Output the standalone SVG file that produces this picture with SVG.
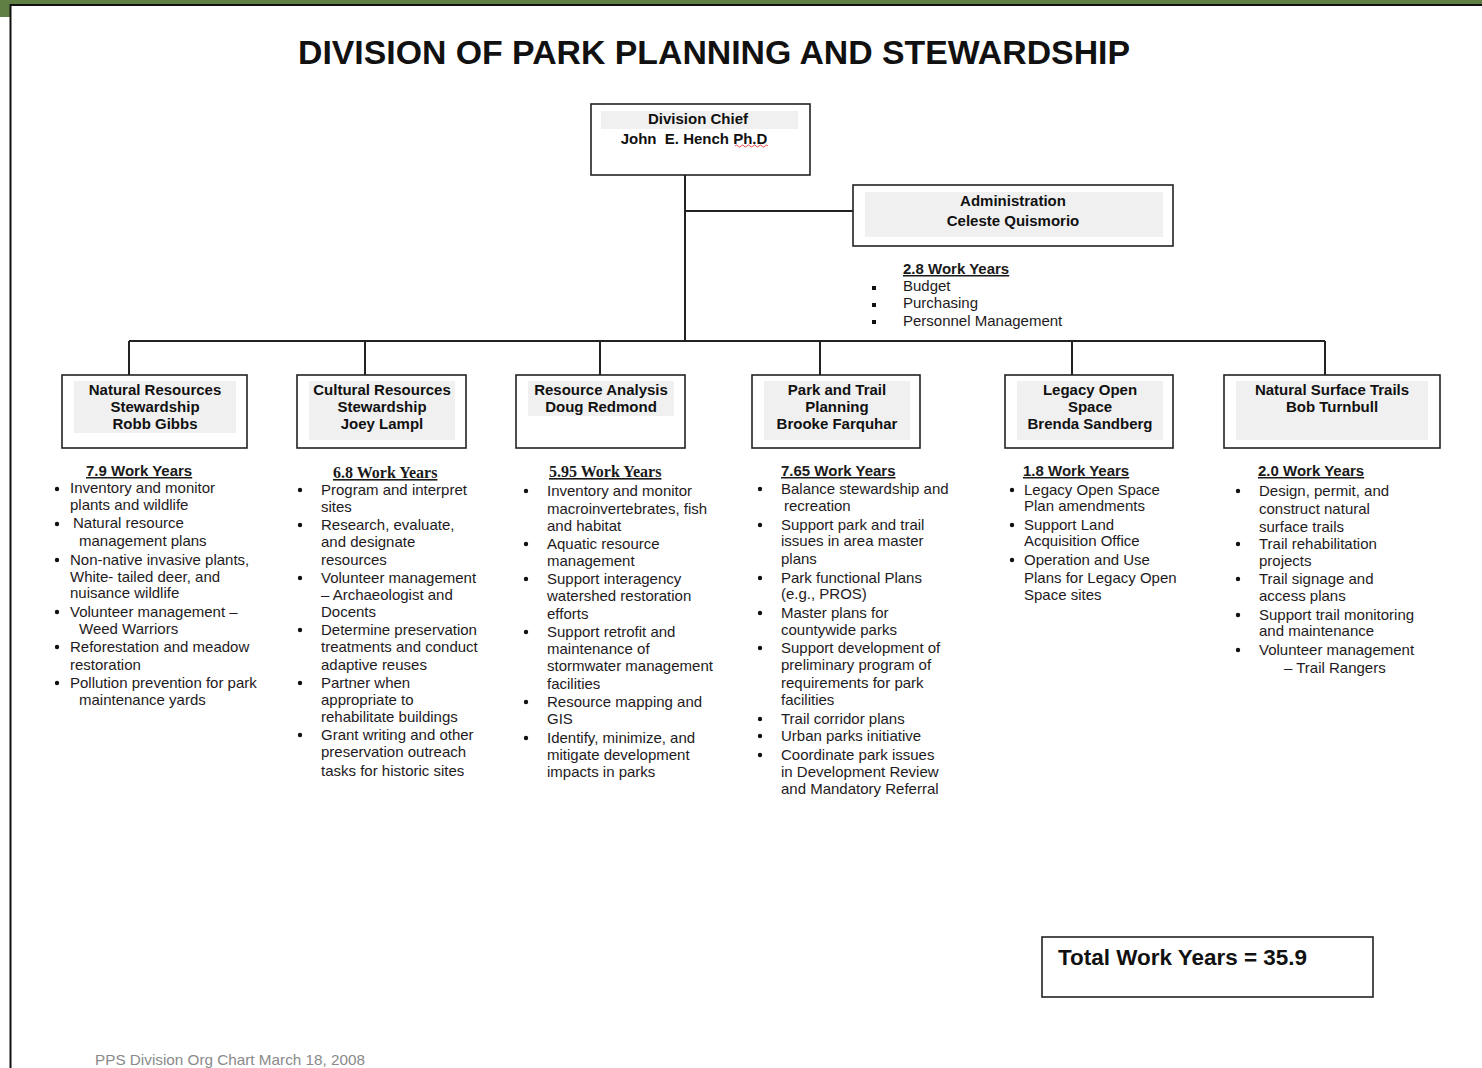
<svg xmlns="http://www.w3.org/2000/svg" width="1482" height="1068" viewBox="0 0 1482 1068">
<style>
.box{fill:#fff;stroke:#222;stroke-width:1.6}
.band{fill:#f0f0f0}
.bt{font-family:"Liberation Sans",Arial,sans-serif;font-size:15px;font-weight:bold;fill:#111;text-anchor:middle}
.t{font-family:"Liberation Sans",Arial,sans-serif;font-size:15px;fill:#1e1a22}
.h{font-family:"Liberation Sans",Arial,sans-serif;font-size:15px;font-weight:bold;fill:#1a1a1a;text-decoration:underline}
.hs{font-family:"Liberation Serif","Times New Roman",serif;font-size:16px;font-weight:bold;fill:#1a1a1a;text-decoration:underline}
.con{stroke:#222;stroke-width:2;fill:none}
.dot{fill:#111}
</style>
<rect x="0" y="0" width="1482" height="1068" fill="#fff"/>
<rect x="0" y="0" width="1482" height="4" fill="#5f7f45"/>
<rect x="0" y="0" width="10" height="17" fill="#5f7f45"/>
<line x1="10" y1="5" x2="1482" y2="5" stroke="#111" stroke-width="2"/>
<line x1="10.5" y1="4" x2="10.5" y2="1068" stroke="#111" stroke-width="2"/>

<text x="714" y="64" text-anchor="middle" textLength="832" lengthAdjust="spacingAndGlyphs" font-family="'Liberation Sans',Arial,sans-serif" font-size="34" font-weight="bold" fill="#111">DIVISION OF PARK PLANNING AND STEWARDSHIP</text>

<g id="connectors">
<path class="con" d="M685 175V341M685 211H853M129 341H1325M129 341V375M365 341V375M600 341V375M820 341V375M1072 341V375M1325 341V375"/>
</g>

<g id="chief">
<rect class="box" x="591" y="104" width="219" height="71"/>
<rect class="band" x="601" y="111" width="197" height="18"/>
<text class="bt" x="698" y="124">Division Chief</text>
<text class="bt" x="694" y="144" style="white-space:pre">John  E. Hench Ph.D</text>
<path d="M735 146q1.5 -2 3 0t3 0t3 0t3 0t3 0t3 0t3 0t3 0t3 0t3 0t3 0" stroke="#e02020" stroke-width="0.8" fill="none"/>
</g>

<g id="admin">
<rect class="box" x="853" y="185" width="320" height="61"/>
<rect class="band" x="865" y="192" width="298" height="45"/>
<text class="bt" x="1013" y="206">Administration</text>
<text class="bt" x="1013" y="226">Celeste Quismorio</text>
<text class="h" x="903" y="274">2.8 Work Years</text>
<rect class="dot" x="872" y="286" width="4" height="4"/>
<text class="t" x="903" y="291">Budget</text>
<rect class="dot" x="872" y="303" width="4" height="4"/>
<text class="t" x="903" y="308">Purchasing</text>
<rect class="dot" x="872" y="320" width="4" height="4"/>
<text class="t" x="903" y="326">Personnel Management</text>
</g>

<g id="nrs">
<rect class="box" x="62" y="375" width="185" height="73"/>
<rect class="band" x="74" y="381" width="162" height="52"/>
<text class="bt" x="155" y="395">Natural Resources</text>
<text class="bt" x="155" y="412">Stewardship</text>
<text class="bt" x="155" y="429">Robb Gibbs</text>
<text class="h" x="86" y="476">7.9 Work Years</text>
<g class="dot"><circle cx="57" cy="489" r="2.2"/><circle cx="57" cy="524" r="2.2"/><circle cx="57" cy="560" r="2.2"/><circle cx="57" cy="612" r="2.2"/><circle cx="57" cy="647" r="2.2"/><circle cx="57" cy="683" r="2.2"/></g>
<text class="t" x="70" y="493">Inventory and monitor</text>
<text class="t" x="70" y="510">plants and wildlife</text>
<text class="t" x="73" y="528">Natural resource</text>
<text class="t" x="79" y="546">management plans</text>
<text class="t" x="70" y="565">Non-native invasive plants,</text>
<text class="t" x="70" y="582">White- tailed deer, and</text>
<text class="t" x="70" y="598">nuisance wildlife</text>
<text class="t" x="70" y="617">Volunteer management –</text>
<text class="t" x="79" y="634">Weed Warriors</text>
<text class="t" x="70" y="652">Reforestation and meadow</text>
<text class="t" x="70" y="670">restoration</text>
<text class="t" x="70" y="688">Pollution prevention for park</text>
<text class="t" x="79" y="705">maintenance yards</text>
</g>

<g id="crs">
<rect class="box" x="297" y="375" width="169" height="73"/>
<rect class="band" x="309" y="381" width="146" height="59"/>
<text class="bt" x="382" y="395">Cultural Resources</text>
<text class="bt" x="382" y="412">Stewardship</text>
<text class="bt" x="382" y="429">Joey Lampl</text>
<text class="hs" x="333" y="478">6.8 Work Years</text>
<g class="dot"><circle cx="300" cy="490" r="2.2"/><circle cx="300" cy="525" r="2.2"/><circle cx="300" cy="578" r="2.2"/><circle cx="300" cy="630" r="2.2"/><circle cx="300" cy="683" r="2.2"/><circle cx="300" cy="735" r="2.2"/></g>
<text class="t" x="321" y="495">Program and interpret</text>
<text class="t" x="321" y="512">sites</text>
<text class="t" x="321" y="530">Research, evaluate,</text>
<text class="t" x="321" y="547">and designate</text>
<text class="t" x="321" y="565">resources</text>
<text class="t" x="321" y="583">Volunteer management</text>
<text class="t" x="321" y="600">– Archaeologist and</text>
<text class="t" x="321" y="617">Docents</text>
<text class="t" x="321" y="635">Determine preservation</text>
<text class="t" x="321" y="652">treatments and conduct</text>
<text class="t" x="321" y="670">adaptive reuses</text>
<text class="t" x="321" y="688">Partner when</text>
<text class="t" x="321" y="705">appropriate to</text>
<text class="t" x="321" y="722">rehabilitate buildings</text>
<text class="t" x="321" y="740">Grant writing and other</text>
<text class="t" x="321" y="757">preservation outreach</text>
<text class="t" x="321" y="776">tasks for historic sites</text>
</g>

<g id="ra">
<rect class="box" x="516" y="375" width="169" height="73"/>
<rect class="band" x="528" y="381" width="146" height="35"/>
<text class="bt" x="601" y="395">Resource Analysis</text>
<text class="bt" x="601" y="412">Doug Redmond</text>
<text class="hs" x="549" y="477">5.95 Work Years</text>
<g class="dot"><circle cx="526" cy="491" r="2.2"/><circle cx="526" cy="544" r="2.2"/><circle cx="526" cy="579" r="2.2"/><circle cx="526" cy="632" r="2.2"/><circle cx="526" cy="702" r="2.2"/><circle cx="526" cy="738" r="2.2"/></g>
<text class="t" x="547" y="496">Inventory and monitor</text>
<text class="t" x="547" y="514">macroinvertebrates, fish</text>
<text class="t" x="547" y="531">and habitat</text>
<text class="t" x="547" y="549">Aquatic resource</text>
<text class="t" x="547" y="566">management</text>
<text class="t" x="547" y="584">Support interagency</text>
<text class="t" x="547" y="601">watershed restoration</text>
<text class="t" x="547" y="619">efforts</text>
<text class="t" x="547" y="637">Support retrofit and</text>
<text class="t" x="547" y="654">maintenance of</text>
<text class="t" x="547" y="671">stormwater management</text>
<text class="t" x="547" y="689">facilities</text>
<text class="t" x="547" y="707">Resource mapping and</text>
<text class="t" x="547" y="724">GIS</text>
<text class="t" x="547" y="743">Identify, minimize, and</text>
<text class="t" x="547" y="760">mitigate development</text>
<text class="t" x="547" y="777">impacts in parks</text>
</g>

<g id="ptp">
<rect class="box" x="752" y="375" width="168" height="73"/>
<rect class="band" x="764" y="381" width="146" height="59"/>
<text class="bt" x="837" y="395">Park and Trail</text>
<text class="bt" x="837" y="412">Planning</text>
<text class="bt" x="837" y="429">Brooke Farquhar</text>
<text class="h" x="781" y="476">7.65 Work Years</text>
<g class="dot"><circle cx="760" cy="489" r="2.2"/><circle cx="760" cy="525" r="2.2"/><circle cx="760" cy="578" r="2.2"/><circle cx="760" cy="613" r="2.2"/><circle cx="760" cy="648" r="2.2"/><circle cx="760" cy="719" r="2.2"/><circle cx="760" cy="736" r="2.2"/><circle cx="760" cy="755" r="2.2"/></g>
<text class="t" x="781" y="494">Balance stewardship and</text>
<text class="t" x="784" y="511">recreation</text>
<text class="t" x="781" y="530">Support park and trail</text>
<text class="t" x="781" y="546">issues in area master</text>
<text class="t" x="781" y="564">plans</text>
<text class="t" x="781" y="583">Park functional Plans</text>
<text class="t" x="781" y="599">(e.g., PROS)</text>
<text class="t" x="781" y="618">Master plans for</text>
<text class="t" x="781" y="635">countywide parks</text>
<text class="t" x="781" y="653">Support development of</text>
<text class="t" x="781" y="670">preliminary program of</text>
<text class="t" x="781" y="688">requirements for park</text>
<text class="t" x="781" y="705">facilities</text>
<text class="t" x="781" y="724">Trail corridor plans</text>
<text class="t" x="781" y="741">Urban parks initiative</text>
<text class="t" x="781" y="760">Coordinate park issues</text>
<text class="t" x="781" y="777">in Development Review</text>
<text class="t" x="781" y="794">and Mandatory Referral</text>
</g>

<g id="los">
<rect class="box" x="1005" y="375" width="168" height="73"/>
<rect class="band" x="1017" y="381" width="146" height="59"/>
<text class="bt" x="1090" y="395">Legacy Open</text>
<text class="bt" x="1090" y="412">Space</text>
<text class="bt" x="1090" y="429">Brenda Sandberg</text>
<text class="h" x="1023" y="476">1.8 Work Years</text>
<g class="dot"><circle cx="1012" cy="490" r="2.2"/><circle cx="1012" cy="525" r="2.2"/><circle cx="1012" cy="560" r="2.2"/></g>
<text class="t" x="1024" y="495">Legacy Open Space</text>
<text class="t" x="1024" y="511">Plan amendments</text>
<text class="t" x="1024" y="530">Support Land</text>
<text class="t" x="1024" y="546">Acquisition Office</text>
<text class="t" x="1024" y="565">Operation and Use</text>
<text class="t" x="1024" y="583">Plans for Legacy Open</text>
<text class="t" x="1024" y="600">Space sites</text>
</g>

<g id="nst">
<rect class="box" x="1224" y="375" width="216" height="73"/>
<rect class="band" x="1236" y="381" width="192" height="59"/>
<text class="bt" x="1332" y="395">Natural Surface Trails</text>
<text class="bt" x="1332" y="412">Bob Turnbull</text>
<text class="h" x="1258" y="476">2.0 Work Years</text>
<g class="dot"><circle cx="1238" cy="491" r="2.2"/><circle cx="1238" cy="544" r="2.2"/><circle cx="1238" cy="579" r="2.2"/><circle cx="1238" cy="615" r="2.2"/><circle cx="1238" cy="650" r="2.2"/></g>
<text class="t" x="1259" y="496">Design, permit, and</text>
<text class="t" x="1259" y="514">construct natural</text>
<text class="t" x="1259" y="532">surface trails</text>
<text class="t" x="1259" y="549">Trail rehabilitation</text>
<text class="t" x="1259" y="566">projects</text>
<text class="t" x="1259" y="584">Trail signage and</text>
<text class="t" x="1259" y="601">access plans</text>
<text class="t" x="1259" y="620">Support trail monitoring</text>
<text class="t" x="1259" y="636">and maintenance</text>
<text class="t" x="1259" y="655">Volunteer management</text>
<text class="t" x="1284" y="673">– Trail Rangers</text>
</g>

<g id="total">
<rect class="box" x="1042" y="937" width="331" height="60"/>
<text x="1058" y="965" textLength="249" lengthAdjust="spacingAndGlyphs" font-family="'Liberation Sans',Arial,sans-serif" font-size="22" font-weight="bold" fill="#111">Total Work Years = 35.9</text>
</g>

<text x="95" y="1065" textLength="270" lengthAdjust="spacingAndGlyphs" font-family="'Liberation Sans',Arial,sans-serif" font-size="14.5" fill="#8a8a8a">PPS Division Org Chart March 18, 2008</text>
</svg>
